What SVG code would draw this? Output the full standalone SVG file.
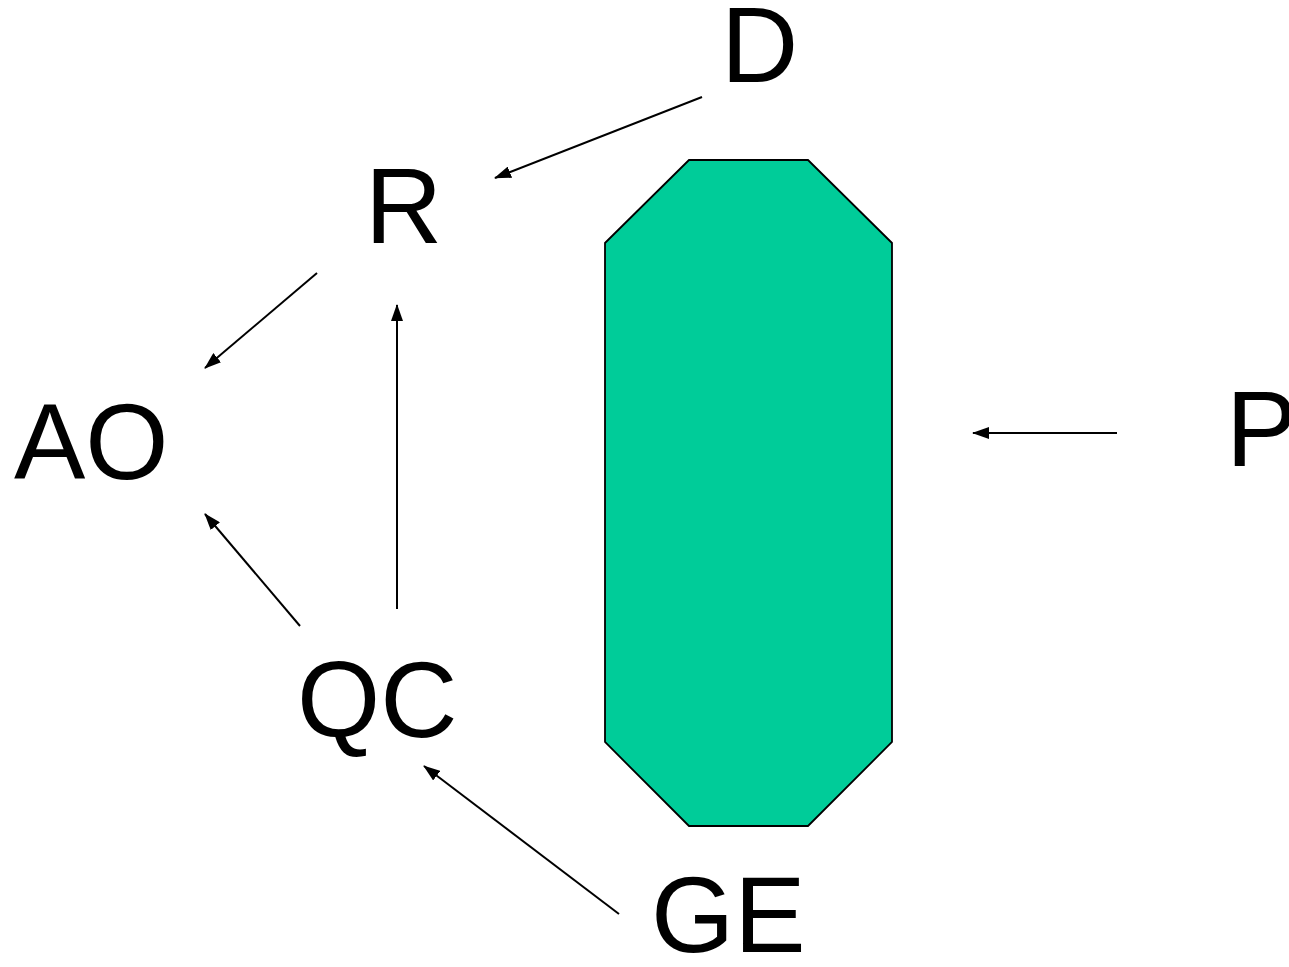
<svg xmlns="http://www.w3.org/2000/svg" width="1289" height="967" viewBox="0 0 1289 967">
<defs>
<style>
.lbl{font-family:"Liberation Sans",Arial,sans-serif;font-size:107px;fill:#000}
.edge{stroke:#000;stroke-width:2;fill:none;marker-end:url(#ah)}
</style>
<marker id="ah" markerWidth="17" markerHeight="12" refX="16" refY="6" orient="auto" markerUnits="userSpaceOnUse" viewBox="0 0 17 12">
<path d="M0,0 L17,6 L0,12 z" fill="#000"/>
</marker>
</defs>
<rect width="1289" height="967" fill="#fff"/>
<g id="block">
<polygon points="689,160 808,160 892,243 892,742 808,826 689,826 605,742 605,243" fill="#00CC99" stroke="#000" stroke-width="1.8"/>
</g>
<g id="connectors">
<path class="edge" d="M702,97 L495,178"/>
<path class="edge" d="M317,273 L205,368"/>
<path class="edge" d="M397,609 L397,305"/>
<path class="edge" d="M300,626 L205,514"/>
<path class="edge" d="M619,914 L424,766"/>
<path class="edge" d="M1117,433 L973,433"/>
</g>
<g id="node-D"><text class="lbl" x="721" y="82">D</text></g>
<g id="node-R"><text class="lbl" x="365" y="243">R</text></g>
<g id="node-AO"><text class="lbl" x="14" y="479">AO</text></g>
<g id="node-QC"><text class="lbl" x="297" y="737">QC</text></g>
<g id="node-GE"><text class="lbl" x="651" y="952">GE</text></g>
<g id="node-P"><text class="lbl" x="1226" y="466">P</text></g>
</svg>
